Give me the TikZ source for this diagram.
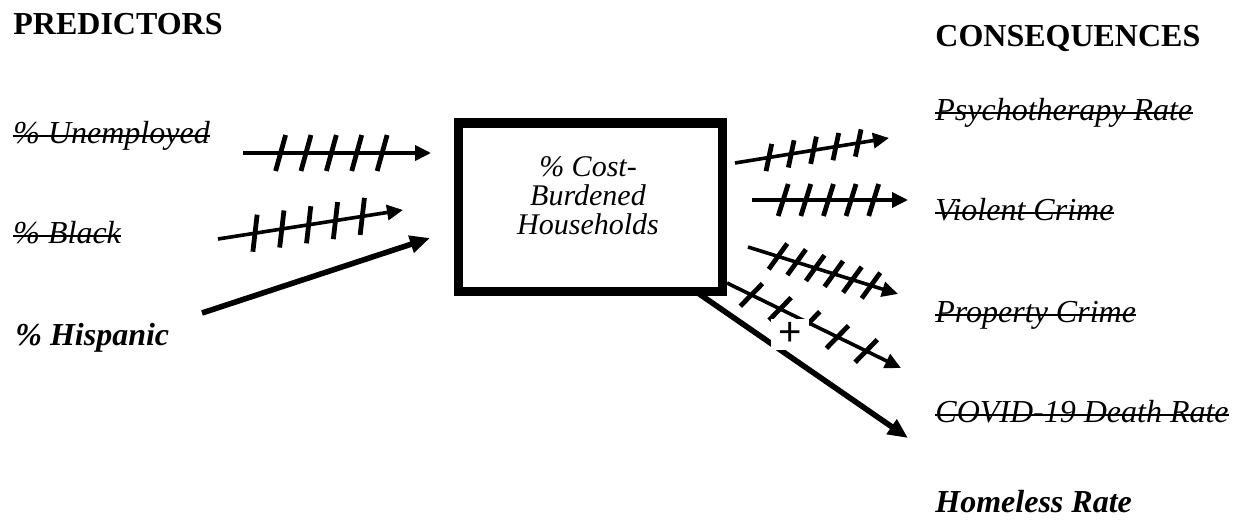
\documentclass[tikz,border=0pt]{standalone}
\usepackage{fontspec}
\setmainfont{Liberation Serif}
\newfontfamily\plusfont{Liberation Sans}
\usetikzlibrary{arrows.meta,decorations.markings}
\tikzset{
  lbl/.style={inner sep=0pt,anchor=base west,font=\fontsize{16pt}{19pt}\selectfont\itshape},
  head/.style={inner sep=0pt,anchor=base west,font=\fontsize{16pt}{19pt}\selectfont\bfseries},
  thinarrow/.style={line width=1.8pt,-{Triangle[length=8pt,width=7.5pt]}},
  thickarrow/.style={line width=2.8pt,-{Triangle[length=10pt,width=8.5pt]}},
  hatch/.style 2 args={postaction={decorate,decoration={markings,
      mark=between positions #1 with {\draw[-,line width=2.4pt] (-2.5pt,-#2) -- (2.5pt,#2);}}}},
}
\begin{document}
\begin{tikzpicture}[x=0.5pt,y=-0.5pt]
\useasboundingbox (0,0) rectangle (1241,524);
% headings
\node[head] (pred) at (13,35) {PREDICTORS};
\node[head] (cons) at (935,47) {CONSEQUENCES};
% predictors
\node[lbl] (unemp) at (13,143) {\% Unemployed};
\node[lbl] (black) at (13,243) {\% Black};
\node[lbl,font=\fontsize{16pt}{19pt}\selectfont\bfseries\itshape] (hisp) at (15,345) {\% Hispanic};
% central box
\node[draw,line width=4.5pt,minimum width=132pt,minimum height=84pt,inner sep=0pt] (box) at (590,207) {};
\node[inner sep=0pt,align=center,font=\fontsize{15pt}{14.5pt}\selectfont\itshape] (boxtext) at (588,196) {\% Cost-\\Burdened\\Households};
% consequences
\node[lbl] (psy) at (935,120) {Psychotherapy Rate};
\node[lbl] (viol) at (935,220) {Violent Crime};
\node[lbl] (prop) at (935,322) {Property Crime};
\node[lbl] (covid) at (935,422) {COVID-19 Death Rate};
\node[lbl,font=\fontsize{16pt}{19pt}\selectfont\bfseries\itshape] (home) at (935,512) {Homeless Rate};
% strike-through lines
\foreach \n in {unemp,black,psy,viol,prop,covid}{
  \draw[line width=1pt] ([yshift=3.6pt]\n.base west) -- ([yshift=3.6pt]\n.base east);
}
% arrow end points
\coordinate (u1) at (243,153); \coordinate (u2) at (431,153);
\coordinate (b1) at (218,239); \coordinate (b2) at (403,210);
\coordinate (h1) at (202,313); \coordinate (h2) at (430,238);
\coordinate (p1) at (735,163); \coordinate (p2) at (889,138);
\coordinate (v1) at (752,200); \coordinate (v2) at (908,200);
\coordinate (r1) at (748,247); \coordinate (r2) at (898,294);
\coordinate (c1) at (727,283); \coordinate (c2) at (901,368);
\coordinate (m1) at (695,291); \coordinate (m2) at (908,438);
% left arrows
\draw[thinarrow,hatch={0.2 and 0.76 step 0.135}{9pt}] (u1) -- (u2);
\draw[thinarrow,hatch={0.2 and 0.8 step 0.145}{9pt}] (b1) -- (b2);
\draw[thickarrow] (h1) -- (h2);
% right arrows
\draw[thinarrow,hatch={0.22 and 0.82 step 0.145}{6.5pt}] (p1) -- (p2);
\draw[thinarrow,hatch={0.2 and 0.8 step 0.145}{8pt}] (v1) -- (v2);
\draw[thinarrow,hatch={0.2 and 0.82 step 0.124}{7.5pt}] (r1) -- (r2);
\draw[thinarrow,hatch={0.14 and 0.8 step 0.165}{7.5pt}] (c1) -- (c2);
\draw[thickarrow] (m1) -- (m2);
\node[fill=white,inner sep=0pt,minimum width=19pt,minimum height=15.5pt,font=\plusfont\fontsize{20pt}{20pt}\selectfont] (plus) at (790,334) {+};
\end{tikzpicture}
\end{document}
